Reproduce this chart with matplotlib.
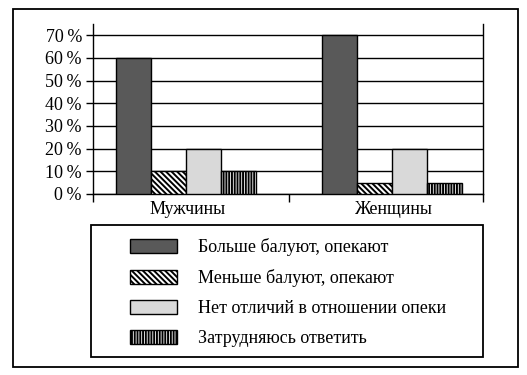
import numpy as np
import matplotlib
matplotlib.use('Agg')
import matplotlib.pyplot as plt
from matplotlib.patches import Rectangle

plt.rcParams['font.family'] = ['Liberation Serif', 'DejaVu Serif']
plt.rcParams['font.size'] = 13
plt.rcParams['hatch.linewidth'] = 1.4

# data
groups = ['Мужчины', 'Женщины']
series = ['Больше балуют, опекают', 'Меньше балуют, опекают',
          'Нет отличий в отношении опеки', 'Затрудняюсь ответить']
values = [[60, 70], [10, 5], [20, 20], [10, 5]]
yticks = [0, 10, 20, 30, 40, 50, 60, 70]

colors = ['#595959', 'white', '#d9d9d9', 'white']
hatches = [None, '\\\\\\\\\\\\', None, '||||||']

W, H = 527, 375
fig = plt.figure(figsize=(W / 100, H / 100), dpi=100)

# outer frame
fig.patches.append(Rectangle((13 / W, 1 - 367 / H), (518 - 13) / W, (367 - 9) / H,
                             transform=fig.transFigure, fill=False, lw=1.3, ec='black'))

ax = fig.add_axes([93 / W, 1 - 194 / H, (483 - 93) / W, (194 - 24) / H])
x = np.arange(len(groups))
width = 0.17
offsets = (np.arange(len(series)) - 1.5) * width
bars = []
for i, s in enumerate(series):
    b = ax.bar(x + offsets[i], values[i], width, color=colors[i], hatch=hatches[i],
               edgecolor='black', linewidth=1, label=s, zorder=3)
    bars.append(b)

ax.set_xlim(-0.45, 1.44)
ax.set_ylim(0, 75)
ax.set_yticks(yticks)
ax.set_yticklabels([f'{t}\u2009%' for t in yticks])
ax.yaxis.grid(True, color='black', lw=1)
ax.set_axisbelow(True)
ax.tick_params(axis='y', length=5, width=1, pad=3)

# category boundaries as major ticks, labels on minor ticks
ax.set_xticks([-0.45, 0.5, 1.44])
ax.set_xticklabels([])
ax.set_xticks(x + 0.01, minor=True)
ax.set_xticklabels(groups, minor=True)
ax.tick_params(axis='x', which='major', length=6, width=1)
ax.tick_params(axis='x', which='minor', length=0, pad=5)

ax.spines['top'].set_visible(False)
for sp in ['left', 'right', 'bottom']:
    ax.spines[sp].set_linewidth(1)

# legend box
fig.patches.append(Rectangle((91 / W, 1 - 357 / H), (483 - 91) / W, (357 - 225) / H,
                             transform=fig.transFigure, fill=False, lw=1.3, ec='black'))
fig.legend(handles=bars, labels=series, loc='upper left',
           bbox_to_anchor=(130 / W, 1 - 238 / H), frameon=False,
           handlelength=2.6, handleheight=0.78, handletextpad=1.15,
           labelspacing=0.72, borderpad=0, borderaxespad=0)

fig.savefig('out.png', dpi=100)
